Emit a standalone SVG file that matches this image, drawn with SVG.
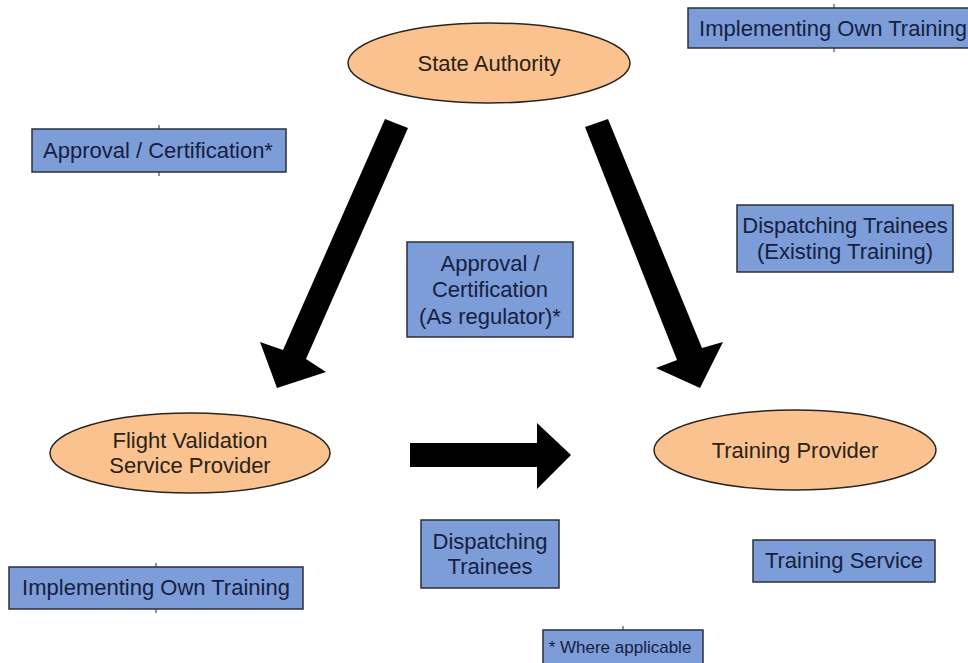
<svg xmlns="http://www.w3.org/2000/svg" width="968" height="663" viewBox="0 0 968 663">
<style>
.box{fill:#7d9dd8;stroke:#2a2f3a;stroke-width:1.5}
.ell{fill:#fac28f;stroke:#2a2520;stroke-width:1.5}
.tick{stroke:#2a2f3a;stroke-width:1}
.bt{font-family:"Liberation Sans",Arial,sans-serif;font-size:22px;fill:#16203f;text-anchor:middle;dominant-baseline:central}
.et{font-family:"Liberation Sans",Arial,sans-serif;font-size:22px;fill:#2a2218;text-anchor:middle;dominant-baseline:central}
.arr{fill:#000}
</style>
<rect width="968" height="663" fill="#fff"/>
<g id="state-authority">
<ellipse class="ell" cx="489" cy="63" rx="141" ry="40"/>
<text class="et" x="489" y="63">State Authority</text>
</g>
<g id="flight-validation">
<ellipse class="ell" cx="190" cy="453" rx="140" ry="40"/>
<text class="et" x="190" y="440">Flight Validation</text>
<text class="et" x="190" y="465">Service Provider</text>
</g>
<g id="training-provider">
<ellipse class="ell" cx="795" cy="450" rx="141" ry="40"/>
<text class="et" x="795" y="450">Training Provider</text>
</g>
<g id="label-own-training-top">
<rect class="box" x="688" y="8" width="285" height="40"/>
<line class="tick" x1="834" y1="4" x2="834" y2="8"/><line class="tick" x1="834" y1="48" x2="834" y2="52"/>
<text class="bt" x="833" y="28">Implementing Own Training</text>
</g>
<g id="label-approval-left">
<rect class="box" x="32" y="129" width="254" height="43"/>
<line class="tick" x1="159" y1="125" x2="159" y2="129"/><line class="tick" x1="159" y1="172" x2="159" y2="176"/>
<text class="bt" x="158" y="150">Approval / Certification*</text>
</g>
<g id="label-approval-regulator">
<rect class="box" x="407" y="242" width="166" height="95"/>
<text class="bt" x="490" y="263">Approval /</text>
<text class="bt" x="490" y="289">Certification</text>
<text class="bt" x="490" y="316">(As regulator)*</text>
</g>
<g id="label-dispatch-existing">
<rect class="box" x="737" y="205" width="216" height="67"/>
<text class="bt" x="845" y="225">Dispatching Trainees</text>
<text class="bt" x="845" y="251">(Existing Training)</text>
</g>
<g id="label-own-training-bottom">
<rect class="box" x="9" y="567" width="294" height="42"/>
<line class="tick" x1="156" y1="563" x2="156" y2="567"/><line class="tick" x1="156" y1="609" x2="156" y2="613"/>
<text class="bt" x="156" y="587">Implementing Own Training</text>
</g>
<g id="label-dispatch">
<rect class="box" x="421" y="520" width="138" height="68"/>
<text class="bt" x="490" y="541">Dispatching</text>
<text class="bt" x="490" y="566">Trainees</text>
</g>
<g id="label-training-service">
<rect class="box" x="753" y="540" width="182" height="42"/>
<text class="bt" x="844" y="560">Training Service</text>
</g>
<g id="label-where-applicable">
<rect class="box" x="543" y="630" width="160" height="40"/>
<line class="tick" x1="623" y1="626" x2="623" y2="630"/>
<text class="bt" x="620" y="647" style="font-size:17px">* Where applicable</text>
</g>
<g id="connectors">
<polygon class="arr" points="385,119 408,128 306,359 326,372 277,388 260,342 283,350"/>
<polygon class="arr" points="585,127 608,119 702,348 723,342 700,388 656,368 677,360"/>
<polygon class="arr" points="410,443 537,443 537,423 571,455 537,489 537,467 410,467"/>
</g>
</svg>
